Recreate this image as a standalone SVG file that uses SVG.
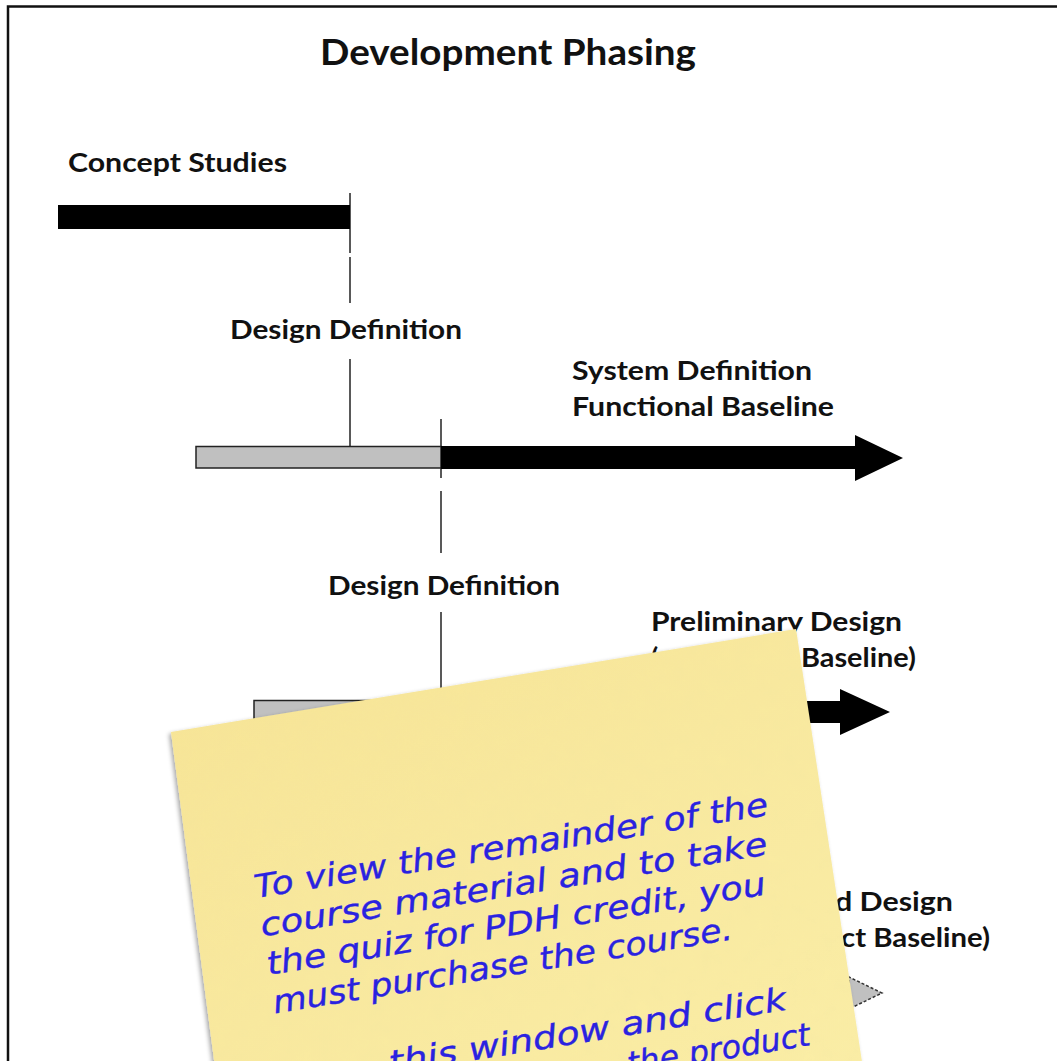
<svg xmlns="http://www.w3.org/2000/svg" width="1057" height="1061" viewBox="0 0 1057 1061">
  <style>
    .lbl { font-family: Lato, "Open Sans", "Liberation Sans", sans-serif; font-weight: 700; fill: #111; }
    .title { font-size: 36px; }
    .phase { font-size: 26px; }
    .bar-black { fill: #000; }
    .bar-gray { fill: #c0c0c0; stroke: #222; stroke-width: 1.5; }
    .bar-dash { fill: #c0c0c0; stroke: #333; stroke-width: 1.5; stroke-dasharray: 3 2; }
    .mile { stroke: #222; stroke-width: 1.5; fill: none; }
    .note-txt { font-family: "DejaVu Sans", "Liberation Sans", sans-serif; font-style: italic; font-size: 32px; fill: #2a22e0; stroke: #2a22e0; stroke-width: 0.35; }
  </style>
  <defs>
    <linearGradient id="paper" x1="0" y1="0" x2="1" y2="1">
      <stop offset="0" stop-color="#f7e494"/>
      <stop offset="0.5" stop-color="#f9e99e"/>
      <stop offset="1" stop-color="#fbeea6"/>
    </linearGradient>
    <filter id="noteShadow" x="-10%" y="-10%" width="120%" height="120%">
      <feDropShadow dx="-2" dy="2" stdDeviation="2.2" flood-color="#000" flood-opacity="0.35"/>
    </filter>
    <filter id="grain" x="0" y="0" width="100%" height="100%">
      <feTurbulence type="fractalNoise" baseFrequency="0.06" numOctaves="3" seed="4" result="n"/>
      <feColorMatrix in="n" type="matrix" values="0 0 0 0 0.85  0 0 0 0 0.75  0 0 0 0 0.35  0 0 0 0.18 0"/>
      <feComposite in2="SourceGraphic" operator="in"/>
    </filter>
  </defs>

  <rect width="1057" height="1061" fill="#fff"/>
  <!-- frame -->
  <path d="M8,1061 V6.5 H1057" fill="none" stroke="#111" stroke-width="2.5"/>

  <text id="title" class="lbl title" x="320" y="65" textLength="376" lengthAdjust="spacingAndGlyphs">Development Phasing</text>

  <!-- milestone lines -->
  <g id="connectors">
    <line class="mile" x1="350" y1="193" x2="350" y2="253"/>
    <line class="mile" x1="350" y1="257" x2="350" y2="303"/>
    <line class="mile" x1="350" y1="359" x2="350" y2="446"/>
    <line class="mile" x1="441" y1="419" x2="441" y2="478"/>
    <line class="mile" x1="441" y1="491" x2="441" y2="553"/>
    <line class="mile" x1="441" y1="612" x2="441" y2="700"/>
  </g>

  <g id="concept-studies">
    <text class="lbl phase" x="68" y="172" textLength="219" lengthAdjust="spacingAndGlyphs">Concept Studies</text>
    <rect class="bar-black" x="58" y="205" width="292" height="24"/>
  </g>

  <g id="design-definition-1">
    <text class="lbl phase" x="230" y="339" textLength="232" lengthAdjust="spacingAndGlyphs">Design Definition</text>
    <rect class="bar-gray" x="196" y="446.5" width="245" height="21.5"/>
  </g>

  <g id="system-definition">
    <text class="lbl phase" x="572" y="380" textLength="240" lengthAdjust="spacingAndGlyphs">System Definition</text>
    <text class="lbl phase" x="572" y="416" textLength="262" lengthAdjust="spacingAndGlyphs">Functional Baseline</text>
    <polygon class="bar-black" points="441,446 855,446 855,435 903,458 855,481 855,469 441,469"/>
  </g>

  <g id="design-definition-2">
    <text class="lbl phase" x="328" y="595" textLength="232" lengthAdjust="spacingAndGlyphs">Design Definition</text>
    <rect class="bar-gray" x="254" y="700.5" width="276" height="21.5"/>
  </g>

  <g id="preliminary-design">
    <text class="lbl phase" x="651" y="631" textLength="251" lengthAdjust="spacingAndGlyphs">Preliminary Design</text>
    <text class="lbl phase" x="651" y="667">(</text>
    <text class="lbl phase" x="801" y="667" textLength="115" lengthAdjust="spacingAndGlyphs">Baseline)</text>
    <polygon class="bar-black" points="530,701 840,701 840,689 890,712 840,735 840,723 530,723"/>
  </g>

  <g id="detailed-design">
    <text class="lbl phase" x="835" y="911" textLength="118" lengthAdjust="spacingAndGlyphs">d Design</text>
    <text class="lbl phase" x="841" y="947" textLength="149" lengthAdjust="spacingAndGlyphs">ct Baseline)</text>
    <polygon class="bar-dash" points="620,984 849,984 849,977 882,993 849,1009 849,1002 620,1002"/>
  </g>

  <!-- sticky note -->
  <g id="sticky-note">
    <path d="M171,732 L796,629 L864,1075 L216,1075 Z" fill="url(#paper)" filter="url(#noteShadow)"/>
    <path d="M171,732 L796,629 L864,1075 L216,1075 Z" fill="#fff" filter="url(#grain)"/>
    <g transform="translate(256,898) rotate(-9.2)">
      <text class="note-txt" x="0" y="0" textLength="520" lengthAdjust="spacingAndGlyphs">To view the remainder of the</text>
      <text class="note-txt" x="0" y="39" textLength="513" lengthAdjust="spacingAndGlyphs">course material and to take</text>
      <text class="note-txt" x="0" y="78" textLength="505" lengthAdjust="spacingAndGlyphs">the quiz for PDH credit, you</text>
      <text class="note-txt" x="0" y="117" textLength="465" lengthAdjust="spacingAndGlyphs">must purchase the course.</text>
      <text class="note-txt" x="105" y="195" textLength="402" lengthAdjust="spacingAndGlyphs">this window and click</text>
      <text class="note-txt" x="340" y="234" textLength="185" lengthAdjust="spacingAndGlyphs">the product</text>
    </g>
  </g>
</svg>
